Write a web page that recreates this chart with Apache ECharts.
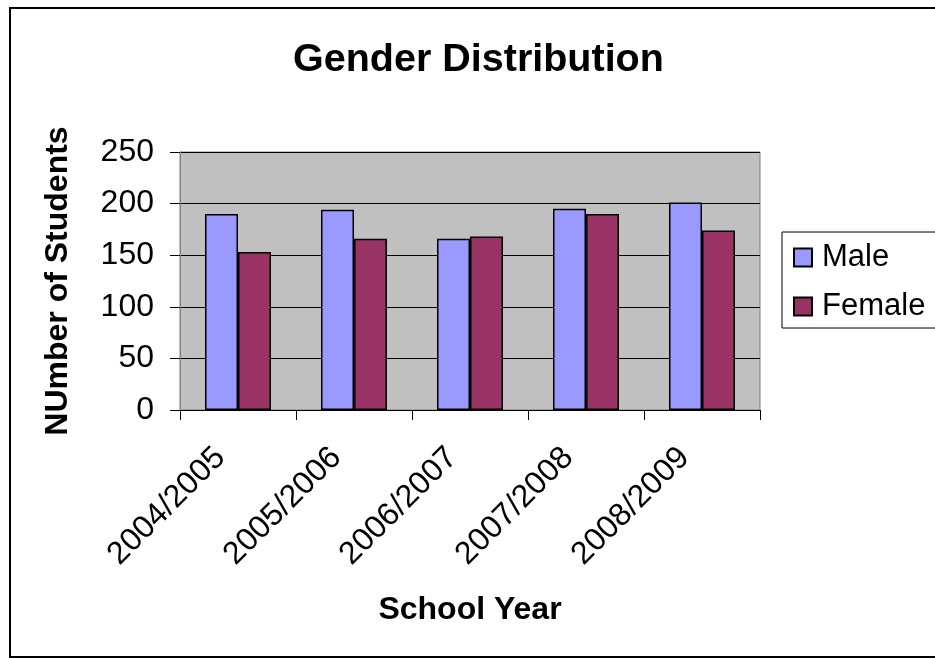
<!DOCTYPE html>
<html>
<head>
<meta charset="utf-8">
<script src="https://cdn.jsdelivr.net/npm/echarts@6/dist/echarts.min.js"></script>
<style>
html,body{margin:0;padding:0;background:#fff;}
#chart{width:935px;height:658px;}
</style>
</head>
<body>
<div id="chart"></div>
<script>
var categories = ['2004/2005', '2005/2006', '2006/2007', '2007/2008', '2008/2009'];
var maleValues = [190, 194, 166, 195, 201];
var femaleValues = [153, 166, 168, 190, 174];
var yTicks = [0, 50, 100, 150, 200, 250];

var FONT = "'Liberation Sans', Arial, sans-serif";
var chart = echarts.init(document.getElementById('chart'), null, {renderer: 'canvas'});
chart.setOption({
  backgroundColor: '#ffffff',
  animation: false,
  title: {
    text: 'Gender Distribution',
    left: 288,
    top: 35,
    textStyle: {fontFamily: FONT, fontSize: 39.5, fontWeight: 'bold', color: '#000'}
  },
  graphic: [{
    type: 'rect',
    shape: {x: 10, y: 8, width: 1000, height: 649},
    style: {fill: 'none', stroke: '#000', lineWidth: 2},
    silent: true
  }],
  legend: {
    orient: 'vertical',
    left: 782,
    top: 232,
    padding: [10, 20, 6, 11],
    itemGap: 18,
    itemWidth: 18,
    itemHeight: 18,
    borderColor: '#000',
    borderWidth: 1,
    icon: 'rect',
    data: ['Male', 'Female'],
    textStyle: {fontFamily: FONT, fontSize: 31, color: '#000', lineHeight: 31, padding: [0, 0, 0, 5]}
  },
  grid: {
    left: 180, top: 152, width: 580, height: 258,
    show: true, backgroundColor: '#C0C0C0', borderColor: '#808080', borderWidth: 1,
    containLabel: false
  },
  xAxis: {
    type: 'category',
    data: categories,
    boundaryGap: true,
    name: 'School Year',
    nameLocation: 'middle',
    nameGap: 184,
    nameTextStyle: {fontFamily: FONT, fontSize: 32, fontWeight: 'bold', color: '#000'},
    axisLine: {show: true, lineStyle: {color: '#000', width: 1}},
    axisTick: {show: true, length: 10, lineStyle: {color: '#000'}},
    axisLabel: {
      rotate: 45, interval: 0, margin: 25,
      fontFamily: FONT, fontSize: 32, color: '#000',
      padding: [0, 25, 0, 0]
    },
    splitLine: {show: false}
  },
  yAxis: {
    type: 'value',
    min: 0, max: 250, interval: 50,
    name: 'NUmber of Students',
    nameLocation: 'middle',
    nameGap: 106,
    nameRotate: 90,
    nameTextStyle: {fontFamily: FONT, fontSize: 32, fontWeight: 'bold', color: '#000'},
    axisLine: {show: true, lineStyle: {color: '#808080', width: 1}},
    axisTick: {show: true, length: 10, lineStyle: {color: '#000'}},
    axisLabel: {
      margin: 26, fontFamily: FONT, fontSize: 32, color: '#000',
      formatter: function (v) { return yTicks.indexOf(v) >= 0 ? String(v) : ''; }
    },
    splitLine: {show: true, lineStyle: {color: '#000', width: 1}}
  },
  series: [{
    name: 'Male', type: 'bar', data: maleValues,
    barWidth: 33, barGap: '0%',
    itemStyle: {color: '#9999FF', borderColor: '#000', borderWidth: 1.5}
  }, {
    name: 'Female', type: 'bar', data: femaleValues,
    barWidth: 33, barGap: '0%',
    itemStyle: {color: '#993366', borderColor: '#000', borderWidth: 1.5}
  }]
});
</script>
</body>
</html>
